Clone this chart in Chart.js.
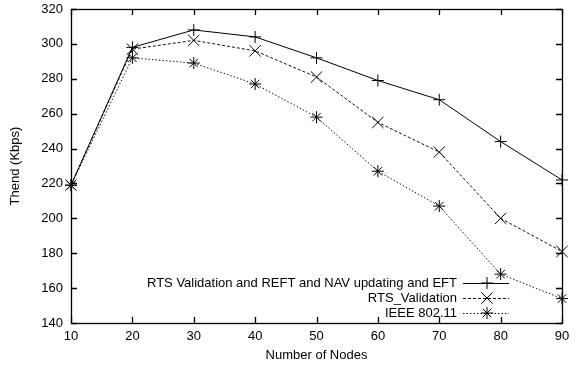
<!DOCTYPE html>
<html>
<head>
<meta charset="utf-8">
<script src="https://cdn.jsdelivr.net/npm/chart.js@4/dist/chart.umd.min.js"></script>
<style>
  html, body { margin: 0; padding: 0; background: #fff; }
  #wrap { width: 584px; height: 365px; }
</style>
</head>
<body>
<div id="wrap"><canvas id="chart" width="584" height="365"></canvas></div>
<script>
  // ===== Data =====
  const nodes = [10, 20, 30, 40, 50, 60, 70, 80, 90];
  const reftValues = [219, 298, 308, 304, 292, 279, 268, 244, 222];
  const rtsValues = [219, 297, 302, 296, 281, 255, 238, 200, 181];
  const ieeeValues = [219, 292, 289, 277, 258, 227, 207, 168, 154];
  const seriesLabels = [
    'RTS Validation and REFT and NAV updating and EFT',
    'RTS_Validation',
    'IEEE 802.11'
  ];
  const xTicks = [10, 20, 30, 40, 50, 60, 70, 80, 90];
  const yTicks = [140, 160, 180, 200, 220, 240, 260, 280, 300, 320];

  const FONT = "'Liberation Sans', Arial, Helvetica, sans-serif";
  const FONT_SIZE = 13;
  const toPoints = (vals) => vals.map((v, i) => ({ x: nodes[i], y: v }));

  // ===== Gnuplot-like frame with inward ticks + legend =====
  const framePlugin = {
    id: 'frame',
    afterDatasetsDraw(chart) {
      const { ctx, chartArea: a, scales } = chart;
      ctx.save();
      ctx.strokeStyle = '#000';
      ctx.lineWidth = 1.3;
      ctx.setLineDash([]);
      ctx.strokeRect(Math.round(a.left) + 0.5, Math.round(a.top) + 0.5,
                     Math.round(a.right - a.left), Math.round(a.bottom - a.top));
      const len = 6;
      ctx.beginPath();
      xTicks.forEach(t => {
        const px = Math.round(scales.x.getPixelForValue(t)) + 0.5;
        ctx.moveTo(px, a.bottom); ctx.lineTo(px, a.bottom - len);
        ctx.moveTo(px, a.top); ctx.lineTo(px, a.top + len);
      });
      yTicks.forEach(t => {
        const py = Math.round(scales.y.getPixelForValue(t)) + 0.5;
        ctx.moveTo(a.left, py); ctx.lineTo(a.left + len, py);
        ctx.moveTo(a.right, py); ctx.lineTo(a.right - len, py);
      });
      ctx.stroke();
      ctx.lineWidth = 1;

      // legend (text right aligned, sample to the right)
      const rows = [283, 298, 313];
      ctx.font = FONT_SIZE + 'px ' + FONT;
      ctx.fillStyle = '#000';
      ctx.textAlign = 'right';
      ctx.textBaseline = 'middle';
      chart.data.datasets.forEach((ds, i) => {
        const y = rows[i];
        ctx.fillText(ds.label, 457, y);
        ctx.beginPath();
        ctx.strokeStyle = ds.borderColor;
        ctx.setLineDash(ds.borderDash || []);
        ctx.moveTo(463, y + 0.5); ctx.lineTo(509, y + 0.5);
        ctx.stroke();
        ctx.setLineDash([]);
        ctx.strokeStyle = '#000';
        Chart.helpers.drawPoint(ctx, {
          pointStyle: ds.pointStyle, radius: ds.pointRadius, rotation: 0, borderWidth: 1
        }, 487, y);
      });
      ctx.restore();
    }
  };

  const baseDataset = {
    borderWidth: 1,
    pointBorderWidth: 1,
    pointBorderColor: '#000',
    pointBackgroundColor: 'transparent',
    fill: false,
    clip: false,
    tension: 0
  };

  new Chart(document.getElementById('chart'), {
    type: 'line',
    data: {
      datasets: [
        Object.assign({}, baseDataset, {
          label: seriesLabels[0], data: toPoints(reftValues),
          borderColor: '#000', pointStyle: 'cross', pointRadius: 6
        }),
        Object.assign({}, baseDataset, {
          label: seriesLabels[1], data: toPoints(rtsValues),
          borderColor: '#111', borderDash: [3, 2], pointStyle: 'crossRot', pointRadius: 8
        }),
        Object.assign({}, baseDataset, {
          label: seriesLabels[2], data: toPoints(ieeeValues),
          borderColor: '#111', borderDash: [1.5, 2], pointStyle: 'star', pointRadius: 6
        })
      ]
    },
    options: {
      responsive: false,
      animation: false,
      layout: { padding: { top: 9, right: 22, left: 0, bottom: 0 } },
      plugins: { legend: { display: false }, tooltip: { enabled: false } },
      scales: {
        x: {
          type: 'linear', min: 10, max: 90,
          afterBuildTicks: s => { s.ticks = xTicks.map(v => ({ value: v })); },
          afterFit: s => { s.height = 42; s.paddingLeft = 0; s.paddingRight = 0; },
          grid: { display: false, drawTicks: false },
          border: { display: false },
          ticks: { color: '#000', font: { family: FONT, size: FONT_SIZE }, padding: 6, maxRotation: 0 },
          title: { display: true, text: 'Number of Nodes', color: '#000',
                   font: { family: FONT, size: FONT_SIZE }, padding: { top: 0, bottom: 2 } }
        },
        y: {
          min: 140, max: 320,
          afterBuildTicks: s => { s.ticks = yTicks.map(v => ({ value: v })); },
          afterFit: s => { s.width = 71; s.paddingTop = 0; s.paddingBottom = 0; },
          grid: { display: false, drawTicks: false },
          border: { display: false },
          ticks: { color: '#000', font: { family: FONT, size: FONT_SIZE }, padding: 8 },
          title: { display: true, text: 'Thend (Kbps)', color: '#000',
                   font: { family: FONT, size: FONT_SIZE }, padding: { top: 8, bottom: 0 } }
        }
      }
    },
    plugins: [framePlugin]
  });
</script>
</body>
</html>
